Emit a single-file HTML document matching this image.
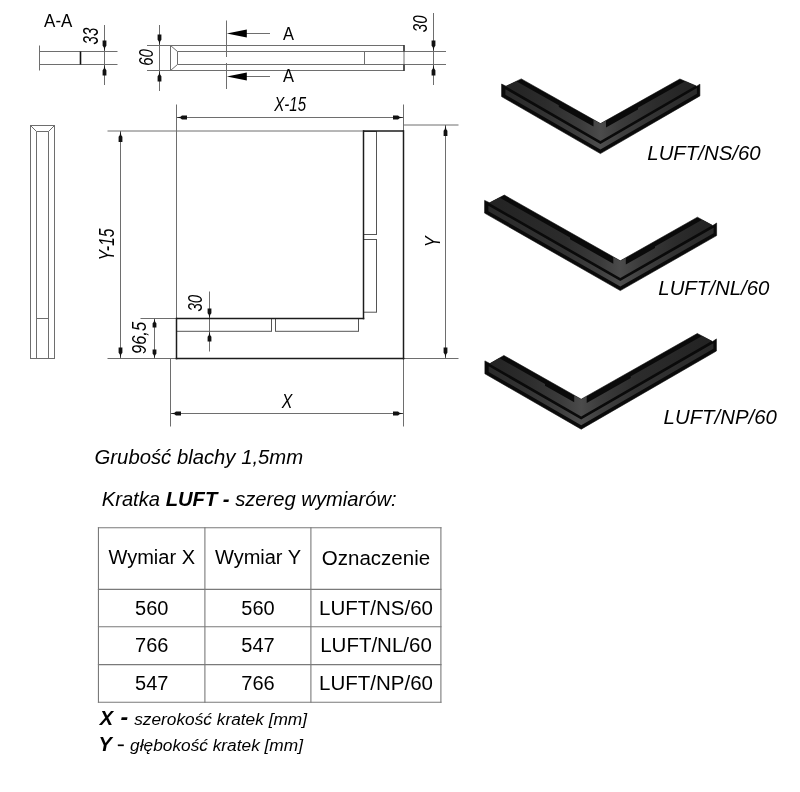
<!DOCTYPE html>
<html><head><meta charset="utf-8"><style>
html,body{margin:0;padding:0;background:#fff;width:800px;height:792px;overflow:hidden}
svg{display:block;will-change:transform}
text{font-family:"Liberation Sans",sans-serif}
</style></head><body>
<svg width="800" height="792" viewBox="0 0 800 792" font-family="Liberation Sans, sans-serif">
<rect width="800" height="792" fill="#fff"/>
<text font-size="20" font-style="normal" transform="translate(44.10,26.90) scale(0.848,0.945)">A-A</text>
<line x1="39.5" y1="45.5" x2="39.5" y2="70.5" stroke="#6e6e6e" stroke-width="1"/>
<line x1="39.5" y1="51.5" x2="117.5" y2="51.5" stroke="#6e6e6e" stroke-width="1"/>
<line x1="39.5" y1="64.5" x2="117.5" y2="64.5" stroke="#6e6e6e" stroke-width="1"/>
<line x1="80.5" y1="51.5" x2="80.5" y2="64.5" stroke="#111" stroke-width="1.6"/>
<line x1="104.5" y1="25" x2="104.5" y2="85" stroke="#6e6e6e" stroke-width="1"/>
<polygon points="104.50,51.50 103.75,47.32 102.60,45.78 102.60,40.50 106.40,40.50 106.40,45.78 105.25,47.32" fill="#111" />
<polygon points="104.50,64.50 105.25,68.68 106.40,70.22 106.40,75.50 102.60,75.50 102.60,70.22 103.75,68.68" fill="#111" />
<text font-size="20" font-style="italic" transform="translate(97.84,44.38) rotate(-90) scale(0.753,1.060)">33</text>
<line x1="147" y1="45.5" x2="404" y2="45.5" stroke="#6e6e6e" stroke-width="1"/>
<line x1="147" y1="70.5" x2="404" y2="70.5" stroke="#6e6e6e" stroke-width="1"/>
<line x1="159.5" y1="25" x2="159.5" y2="91" stroke="#6e6e6e" stroke-width="1"/>
<polygon points="159.50,45.50 158.75,41.32 157.60,39.78 157.60,34.50 161.40,34.50 161.40,39.78 160.25,41.32" fill="#111" />
<polygon points="159.50,70.50 160.25,74.68 161.40,76.22 161.40,81.50 157.60,81.50 157.60,76.22 158.75,74.68" fill="#111" />
<text font-size="20" font-style="italic" transform="translate(152.64,65.85) rotate(-90) scale(0.748,1.032)">60</text>
<line x1="170.5" y1="45.5" x2="170.5" y2="70.5" stroke="#6e6e6e" stroke-width="1"/>
<line x1="170.5" y1="45.5" x2="177.5" y2="51.5" stroke="#6e6e6e" stroke-width="1"/>
<line x1="170.5" y1="70.5" x2="177.5" y2="64.5" stroke="#6e6e6e" stroke-width="1"/>
<line x1="177.5" y1="51.5" x2="177.5" y2="64.5" stroke="#6e6e6e" stroke-width="1"/>
<line x1="177.5" y1="51.5" x2="446" y2="51.5" stroke="#6e6e6e" stroke-width="1"/>
<line x1="177.5" y1="64.5" x2="446" y2="64.5" stroke="#6e6e6e" stroke-width="1"/>
<line x1="364.5" y1="51.5" x2="364.5" y2="64.5" stroke="#6e6e6e" stroke-width="1"/>
<line x1="404" y1="45.5" x2="404" y2="70.5" stroke="#6e6e6e" stroke-width="1"/>
<line x1="404" y1="45" x2="404" y2="51.5" stroke="#333" stroke-width="1.5"/>
<line x1="404" y1="64.5" x2="404" y2="71" stroke="#333" stroke-width="1.5"/>
<line x1="433.5" y1="13" x2="433.5" y2="85" stroke="#6e6e6e" stroke-width="1"/>
<polygon points="433.50,51.50 432.75,47.32 431.60,45.78 431.60,40.50 435.40,40.50 435.40,45.78 434.25,47.32" fill="#111" />
<polygon points="433.50,64.50 434.25,68.68 435.40,70.22 435.40,75.50 431.60,75.50 431.60,70.22 432.75,68.68" fill="#111" />
<text font-size="20" font-style="italic" transform="translate(426.74,32.18) rotate(-90) scale(0.758,1.032)">30</text>
<line x1="226.5" y1="20.5" x2="226.5" y2="57" stroke="#6e6e6e" stroke-width="1"/>
<line x1="226.5" y1="63" x2="226.5" y2="89" stroke="#6e6e6e" stroke-width="1"/>
<line x1="246" y1="33.5" x2="270" y2="33.5" stroke="#6e6e6e" stroke-width="1"/>
<line x1="246" y1="76.5" x2="270" y2="76.5" stroke="#6e6e6e" stroke-width="1"/>
<polygon points="226.80,33.50 246.80,29.40 246.80,37.60" fill="#000" />
<polygon points="226.80,76.50 246.80,72.40 246.80,80.60" fill="#000" />
<text font-size="20" font-style="normal" transform="translate(283.10,39.90) scale(0.823,0.924)">A</text>
<text font-size="20" font-style="normal" transform="translate(283.10,82.20) scale(0.823,0.873)">A</text>
<rect x="30.5" y="125.5" width="24" height="233" fill="none" stroke="#6e6e6e" stroke-width="1"/>
<line x1="36.5" y1="131.5" x2="36.5" y2="358.5" stroke="#6e6e6e" stroke-width="1"/>
<line x1="48.5" y1="131.5" x2="48.5" y2="358.5" stroke="#6e6e6e" stroke-width="1"/>
<line x1="36.5" y1="131.5" x2="48.5" y2="131.5" stroke="#6e6e6e" stroke-width="1"/>
<line x1="30.5" y1="125.5" x2="36.5" y2="131.5" stroke="#6e6e6e" stroke-width="1"/>
<line x1="54.5" y1="125.5" x2="48.5" y2="131.5" stroke="#6e6e6e" stroke-width="1"/>
<line x1="36.5" y1="318.5" x2="48.5" y2="318.5" stroke="#6e6e6e" stroke-width="1"/>
<line x1="176.5" y1="104.5" x2="176.5" y2="318.5" stroke="#6e6e6e" stroke-width="1"/>
<line x1="403.5" y1="104.5" x2="403.5" y2="131" stroke="#6e6e6e" stroke-width="1"/>
<line x1="176.5" y1="117.5" x2="403.5" y2="117.5" stroke="#6e6e6e" stroke-width="1"/>
<polygon points="176.50,117.50 180.49,116.75 181.96,115.60 187.00,115.60 187.00,119.40 181.96,119.40 180.49,118.25" fill="#111" />
<polygon points="403.50,117.50 399.51,118.25 398.04,119.40 393.00,119.40 393.00,115.60 398.04,115.60 399.51,116.75" fill="#111" />
<text font-size="20" font-style="italic" transform="translate(274.29,110.64) scale(0.753,1.057)">X-15</text>
<line x1="107.5" y1="131" x2="363.5" y2="131" stroke="#6e6e6e" stroke-width="1"/>
<line x1="107.5" y1="358.5" x2="176.5" y2="358.5" stroke="#6e6e6e" stroke-width="1"/>
<line x1="120.5" y1="131" x2="120.5" y2="358.5" stroke="#6e6e6e" stroke-width="1"/>
<polygon points="120.50,131.00 121.25,135.18 122.40,136.72 122.40,142.00 118.60,142.00 118.60,136.72 119.75,135.18" fill="#111" />
<polygon points="120.50,358.50 119.75,354.32 118.60,352.78 118.60,347.50 122.40,347.50 122.40,352.78 121.25,354.32" fill="#111" />
<text font-size="20" font-style="italic" transform="translate(113.63,260.52) rotate(-90) scale(0.786,1.079)">Y-15</text>
<line x1="140.5" y1="318.5" x2="176.5" y2="318.5" stroke="#6e6e6e" stroke-width="1"/>
<line x1="154.5" y1="318.5" x2="154.5" y2="358.5" stroke="#6e6e6e" stroke-width="1"/>
<polygon points="154.50,318.50 155.25,321.92 156.40,323.18 156.40,327.50 152.60,327.50 152.60,323.18 153.75,321.92" fill="#111" />
<polygon points="154.50,358.50 153.75,355.08 152.60,353.82 152.60,349.50 156.40,349.50 156.40,353.82 155.25,355.08" fill="#111" />
<text font-size="20" font-style="italic" transform="translate(145.76,354.02) rotate(-90) scale(0.824,1.055)">96,5</text>
<line x1="209.5" y1="291.5" x2="209.5" y2="351.5" stroke="#6e6e6e" stroke-width="1"/>
<polygon points="209.50,318.50 208.75,314.70 207.60,313.30 207.60,308.50 211.40,308.50 211.40,313.30 210.25,314.70" fill="#111" />
<polygon points="209.50,331.50 210.25,335.30 211.40,336.70 211.40,341.50 207.60,341.50 207.60,336.70 208.75,335.30" fill="#111" />
<text font-size="20" font-style="italic" transform="translate(202.25,311.58) rotate(-90) scale(0.758,1.004)">30</text>
<line x1="403.5" y1="125" x2="458.5" y2="125" stroke="#6e6e6e" stroke-width="1"/>
<line x1="403.5" y1="358.5" x2="458.5" y2="358.5" stroke="#6e6e6e" stroke-width="1"/>
<line x1="445.5" y1="125" x2="445.5" y2="358.5" stroke="#6e6e6e" stroke-width="1"/>
<polygon points="445.50,125.00 446.25,129.18 447.40,130.72 447.40,136.00 443.60,136.00 443.60,130.72 444.75,129.18" fill="#111" />
<polygon points="445.50,358.50 444.75,354.32 443.60,352.78 443.60,347.50 447.40,347.50 447.40,352.78 446.25,354.32" fill="#111" />
<text font-size="20" font-style="italic" transform="translate(439.70,247.36) rotate(-90) scale(0.824,1.091)">Y</text>
<line x1="170.5" y1="358.5" x2="170.5" y2="426.5" stroke="#6e6e6e" stroke-width="1"/>
<line x1="403.5" y1="358.5" x2="403.5" y2="426.5" stroke="#6e6e6e" stroke-width="1"/>
<line x1="170.5" y1="413.5" x2="403.5" y2="413.5" stroke="#6e6e6e" stroke-width="1"/>
<polygon points="170.50,413.50 174.49,412.75 175.96,411.60 181.00,411.60 181.00,415.40 175.96,415.40 174.49,414.25" fill="#111" />
<polygon points="403.50,413.50 399.51,414.25 398.04,415.40 393.00,415.40 393.00,411.60 398.04,411.60 399.51,412.75" fill="#111" />
<text font-size="20" font-style="italic" transform="translate(281.80,407.70) scale(0.793,1.018)">X</text>
<rect x="363.5" y="131.5" width="13" height="103" fill="none" stroke="#555" stroke-width="1"/>
<rect x="363.5" y="239.5" width="13" height="72.7" fill="none" stroke="#555" stroke-width="1"/>
<rect x="176.5" y="318.5" width="95" height="12.8" fill="none" stroke="#555" stroke-width="1"/>
<rect x="275.5" y="318.5" width="83" height="12.8" fill="none" stroke="#555" stroke-width="1"/>
<line x1="363.5" y1="131" x2="403.5" y2="131" stroke="#1c1c1c" stroke-width="1.5"/>
<line x1="403.5" y1="130.2" x2="403.5" y2="359.3" stroke="#1c1c1c" stroke-width="1.5"/>
<line x1="363.5" y1="130.2" x2="363.5" y2="319.3" stroke="#1c1c1c" stroke-width="1.5"/>
<line x1="176.5" y1="318.5" x2="364.3" y2="318.5" stroke="#1c1c1c" stroke-width="1.5"/>
<line x1="176.5" y1="317.7" x2="176.5" y2="359.3" stroke="#1c1c1c" stroke-width="1.5"/>
<line x1="175.7" y1="358.5" x2="404.3" y2="358.5" stroke="#1c1c1c" stroke-width="1.5"/>
<defs><clipPath id="clip1"><polygon points="501.60,84.00 506.00,86.20 521.30,78.90 600.50,123.60 679.90,79.00 696.80,86.20 699.90,84.20 699.90,95.90 600.40,153.60 501.60,96.60"/></clipPath><linearGradient id="gt1" x1="501.6" y1="0" x2="699.9" y2="0" gradientUnits="userSpaceOnUse"><stop offset="0.000" stop-color="#222222"/><stop offset="0.221" stop-color="#2c2c2c"/><stop offset="0.398" stop-color="#3b3b3b"/><stop offset="0.499" stop-color="#4b4b4b"/><stop offset="0.600" stop-color="#3b3b3b"/><stop offset="0.776" stop-color="#2c2c2c"/><stop offset="1.000" stop-color="#222222"/></linearGradient><linearGradient id="gf1" x1="501.6" y1="0" x2="699.9" y2="0" gradientUnits="userSpaceOnUse"><stop offset="0.000" stop-color="#2a2a2a"/><stop offset="0.221" stop-color="#333333"/><stop offset="0.398" stop-color="#404040"/><stop offset="0.499" stop-color="#4e4e4e"/><stop offset="0.600" stop-color="#404040"/><stop offset="0.776" stop-color="#333333"/><stop offset="1.000" stop-color="#2a2a2a"/></linearGradient></defs>
<polygon points="501.60,84.00 506.00,86.20 521.30,78.90 600.50,123.60 679.90,79.00 696.80,86.20 699.90,84.20 699.90,95.90 600.40,153.60 501.60,96.60" fill="#0a0a0a" stroke="#0a0a0a" stroke-width="0.6" stroke-linejoin="round"/>
<g clip-path="url(#clip1)">
<polygon points="505.40,75.13 558.80,105.26 558.80,106.96 593.50,126.55 593.50,119.65 600.50,123.60 606.00,120.51 606.00,127.41 638.00,109.44 638.00,107.74 696.90,74.65 696.90,84.94 600.40,140.90 505.40,86.09" fill="url(#gt1)" />
<polygon points="505.40,89.19 600.40,144.00 696.90,88.04 696.90,93.64 600.40,149.60 505.40,94.79" fill="url(#gf1)" />
</g>
<defs><clipPath id="clip2"><polygon points="484.60,200.40 489.60,202.80 504.30,195.10 620.30,260.80 697.40,217.20 712.80,225.60 716.60,223.00 716.60,235.60 620.30,290.60 484.60,213.10"/></clipPath><linearGradient id="gt2" x1="484.6" y1="0" x2="716.6" y2="0" gradientUnits="userSpaceOnUse"><stop offset="0.000" stop-color="#222222"/><stop offset="0.348" stop-color="#2c2c2c"/><stop offset="0.499" stop-color="#3b3b3b"/><stop offset="0.585" stop-color="#4b4b4b"/><stop offset="0.671" stop-color="#3b3b3b"/><stop offset="0.822" stop-color="#2c2c2c"/><stop offset="1.000" stop-color="#222222"/></linearGradient><linearGradient id="gf2" x1="484.6" y1="0" x2="716.6" y2="0" gradientUnits="userSpaceOnUse"><stop offset="0.000" stop-color="#2a2a2a"/><stop offset="0.348" stop-color="#333333"/><stop offset="0.499" stop-color="#404040"/><stop offset="0.585" stop-color="#4e4e4e"/><stop offset="0.671" stop-color="#404040"/><stop offset="0.822" stop-color="#333333"/><stop offset="1.000" stop-color="#2a2a2a"/></linearGradient></defs>
<polygon points="484.60,200.40 489.60,202.80 504.30,195.10 620.30,260.80 697.40,217.20 712.80,225.60 716.60,223.00 716.60,235.60 620.30,290.60 484.60,213.10" fill="#0a0a0a" stroke="#0a0a0a" stroke-width="0.6" stroke-linejoin="round"/>
<g clip-path="url(#clip2)">
<polygon points="488.40,191.29 570.00,237.51 570.00,239.21 613.30,263.74 613.30,256.84 620.30,260.80 625.80,257.69 625.80,264.59 655.00,248.08 655.00,246.38 713.60,213.24 713.60,224.61 620.30,277.90 488.40,202.57" fill="url(#gt2)" />
<polygon points="488.40,205.67 620.30,281.00 713.60,227.71 713.60,233.31 620.30,286.60 488.40,211.27" fill="url(#gf2)" />
</g>
<defs><clipPath id="clip3"><polygon points="484.90,360.90 489.90,363.60 503.90,355.50 581.20,399.20 697.30,333.50 712.60,341.60 716.40,338.90 716.40,351.00 581.20,429.20 484.90,373.75"/></clipPath><linearGradient id="gt3" x1="484.9" y1="0" x2="716.4" y2="0" gradientUnits="userSpaceOnUse"><stop offset="0.000" stop-color="#222222"/><stop offset="0.178" stop-color="#2c2c2c"/><stop offset="0.330" stop-color="#3b3b3b"/><stop offset="0.416" stop-color="#4b4b4b"/><stop offset="0.502" stop-color="#3b3b3b"/><stop offset="0.654" stop-color="#2c2c2c"/><stop offset="1.000" stop-color="#222222"/></linearGradient><linearGradient id="gf3" x1="484.9" y1="0" x2="716.4" y2="0" gradientUnits="userSpaceOnUse"><stop offset="0.000" stop-color="#2a2a2a"/><stop offset="0.178" stop-color="#333333"/><stop offset="0.330" stop-color="#404040"/><stop offset="0.416" stop-color="#4e4e4e"/><stop offset="0.502" stop-color="#404040"/><stop offset="0.654" stop-color="#333333"/><stop offset="1.000" stop-color="#2a2a2a"/></linearGradient></defs>
<polygon points="484.90,360.90 489.90,363.60 503.90,355.50 581.20,399.20 697.30,333.50 712.60,341.60 716.40,338.90 716.40,351.00 581.20,429.20 484.90,373.75" fill="#0a0a0a" stroke="#0a0a0a" stroke-width="0.6" stroke-linejoin="round"/>
<g clip-path="url(#clip3)">
<polygon points="488.70,352.11 545.00,383.94 545.00,385.64 574.20,402.14 574.20,395.24 581.20,399.20 586.70,396.09 586.70,402.99 630.80,378.03 630.80,376.33 713.40,329.59 713.40,340.04 581.20,416.50 488.70,363.24" fill="url(#gt3)" />
<polygon points="488.70,366.34 581.20,419.60 713.40,343.14 713.40,348.74 581.20,425.20 488.70,371.94" fill="url(#gf3)" />
</g>
<text x="647.3" y="160.4" font-size="20.4" font-style="italic" font-weight="normal" text-anchor="start" fill="#000" >LUFT/NS/60</text>
<text x="658.3" y="294.6" font-size="20.4" font-style="italic" font-weight="normal" text-anchor="start" fill="#000" >LUFT/NL/60</text>
<text x="663.6" y="423.7" font-size="20.4" font-style="italic" font-weight="normal" text-anchor="start" fill="#000" >LUFT/NP/60</text>
<text x="94.6" y="463.6" font-size="20.3" font-style="italic" font-weight="normal" text-anchor="start" fill="#000" >Grubość blachy 1,5mm</text>
<text x="101.7" y="505.6" font-size="20.2" font-style="italic">Kratka <tspan font-weight="bold">LUFT -</tspan> szereg wymiarów:</text>
<line x1="97.9" y1="527.7" x2="441.5" y2="527.7" stroke="#7a7a7a" stroke-width="1.1"/>
<line x1="97.9" y1="589.4" x2="441.5" y2="589.4" stroke="#7a7a7a" stroke-width="1.1"/>
<line x1="97.9" y1="626.7" x2="441.5" y2="626.7" stroke="#7a7a7a" stroke-width="1.1"/>
<line x1="97.9" y1="664.6" x2="441.5" y2="664.6" stroke="#7a7a7a" stroke-width="1.1"/>
<line x1="97.9" y1="702.2" x2="441.5" y2="702.2" stroke="#7a7a7a" stroke-width="1.1"/>
<line x1="98.45" y1="527.15" x2="98.45" y2="702.75" stroke="#7a7a7a" stroke-width="1.1"/>
<line x1="204.9" y1="527.15" x2="204.9" y2="702.75" stroke="#7a7a7a" stroke-width="1.1"/>
<line x1="310.9" y1="527.15" x2="310.9" y2="702.75" stroke="#7a7a7a" stroke-width="1.1"/>
<line x1="440.9" y1="527.15" x2="440.9" y2="702.75" stroke="#7a7a7a" stroke-width="1.1"/>
<text x="151.75" y="563.6" font-size="20" font-style="normal" font-weight="normal" text-anchor="middle" fill="#000" >Wymiar X</text>
<text x="258" y="563.6" font-size="20" font-style="normal" font-weight="normal" text-anchor="middle" fill="#000" >Wymiar Y</text>
<text x="376" y="565.4" font-size="20.5" font-style="normal" font-weight="normal" text-anchor="middle" fill="#000" >Oznaczenie</text>
<text x="151.75" y="614.8" font-size="20" font-style="normal" font-weight="normal" text-anchor="middle" fill="#000" >560</text>
<text x="258" y="614.8" font-size="20" font-style="normal" font-weight="normal" text-anchor="middle" fill="#000" >560</text>
<text x="376" y="614.8" font-size="20.5" font-style="normal" font-weight="normal" text-anchor="middle" fill="#000" >LUFT/NS/60</text>
<text x="151.75" y="652.4" font-size="20" font-style="normal" font-weight="normal" text-anchor="middle" fill="#000" >766</text>
<text x="258" y="652.4" font-size="20" font-style="normal" font-weight="normal" text-anchor="middle" fill="#000" >547</text>
<text x="376" y="652.4" font-size="20.5" font-style="normal" font-weight="normal" text-anchor="middle" fill="#000" >LUFT/NL/60</text>
<text x="151.75" y="690.3" font-size="20" font-style="normal" font-weight="normal" text-anchor="middle" fill="#000" >547</text>
<text x="258" y="690.3" font-size="20" font-style="normal" font-weight="normal" text-anchor="middle" fill="#000" >766</text>
<text x="376" y="690.3" font-size="20.5" font-style="normal" font-weight="normal" text-anchor="middle" fill="#000" >LUFT/NP/60</text>
<text x="99.8" y="725" font-size="20" font-style="italic" font-weight="bold">X</text>
<text x="120.4" y="725" font-size="23" font-style="italic" font-weight="bold">-</text>
<text x="134.2" y="725" font-size="17.3" font-style="italic">szerokość kratek [mm]</text>
<text x="98.5" y="751.2" font-size="20" font-style="italic" font-weight="bold">Y</text>
<line x1="117.8" y1="745.3" x2="123.8" y2="745.3" stroke="#000" stroke-width="1.7"/>
<text x="130.1" y="751.2" font-size="17.3" font-style="italic">głębokość kratek [mm]</text>
</svg>
</body></html>
